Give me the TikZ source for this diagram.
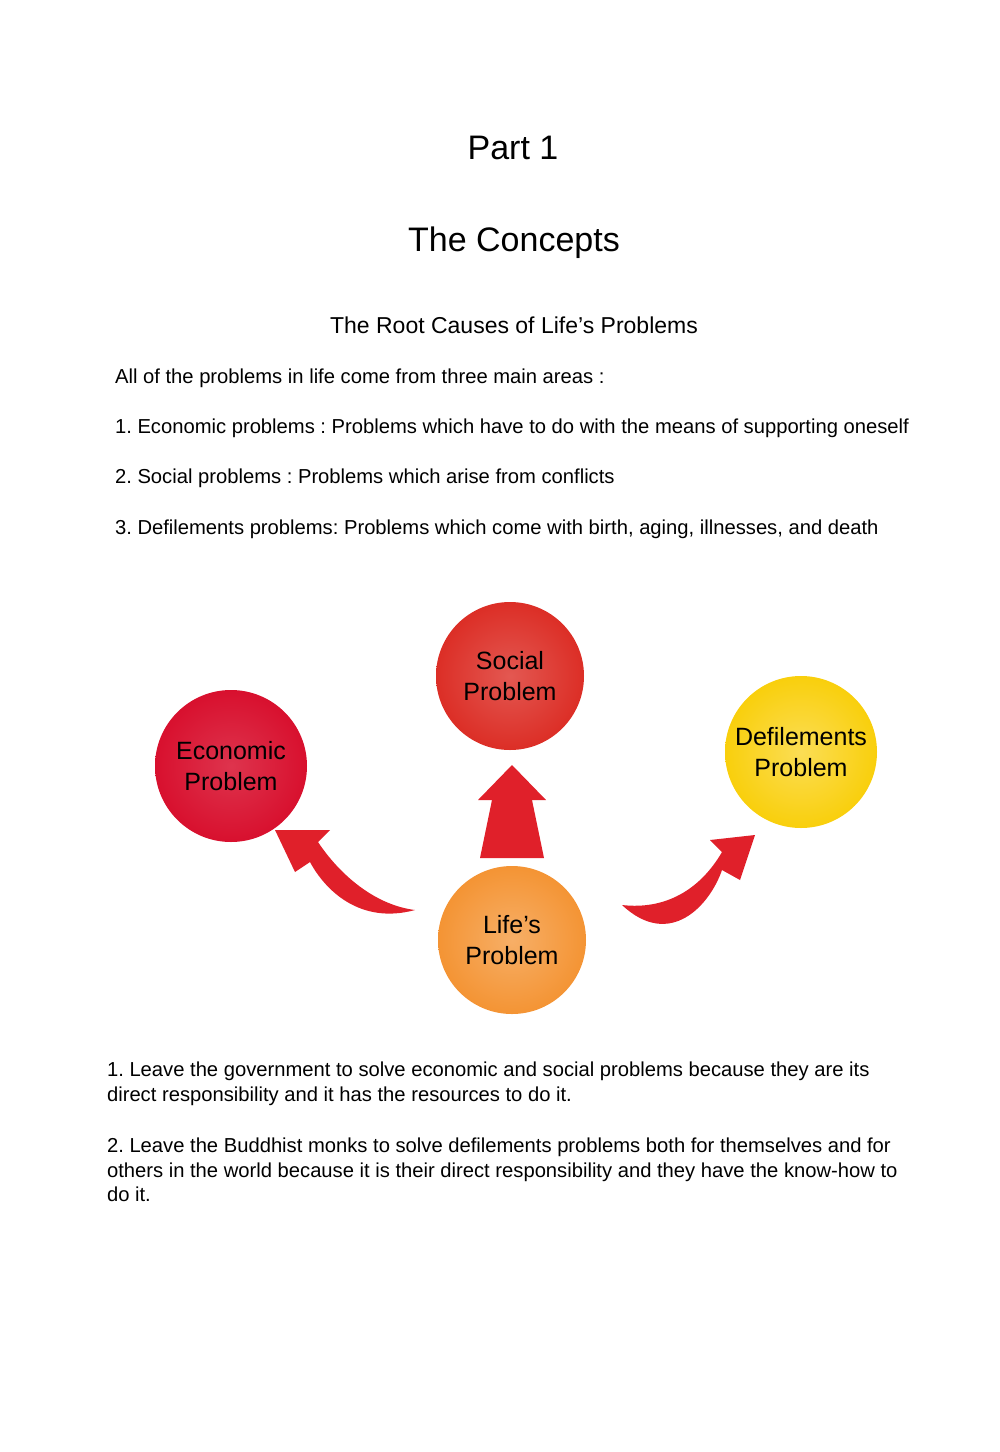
\documentclass[tikz,border=0pt]{standalone}
\usepackage{fontspec}
\setmainfont{Liberation Sans}
\usetikzlibrary{positioning,calc,shadings}

\definecolor{socialred}{HTML}{DC2E26}
\definecolor{econred}{HTML}{D8102E}
\definecolor{defyellow}{HTML}{F9CF0C}
\definecolor{lifeorange}{HTML}{F49434}
\definecolor{arrowred}{HTML}{E0202A}

\tikzset{
  ball/.style={circle, minimum size=74pt, inner sep=0pt, shading=radial,
               align=center, font=\fontsize{12.5}{15.5}\selectfont},
  bodytext/.style={anchor=west, font=\fontsize{10.1}{12}\selectfont},
  paratext/.style={anchor=north west, align=left, font=\fontsize{10.1}{12.2}\selectfont}
}

\begin{document}
\begin{tikzpicture}[x=0.5pt,y=-0.5pt]
  \useasboundingbox (0,0) rectangle (1000,1452);

  % headings
  \node(part) at (513,148) {\fontsize{17}{20}\selectfont Part 1};
  \node(concepts) at (514,243) {\fontsize{17}{20}\selectfont The Concepts};
  \node(root) at (514,325) {\fontsize{11.5}{14}\selectfont The Root Causes of Life's Problems};

  \node(intro)[bodytext] at (108,378) {All of the problems in life come from three main areas :};
  \node(l1)[bodytext] at (108,428) {1.\ Economic problems :\ Problems which have to do with the means of supporting oneself};
  \node(l2)[bodytext] at (108,478) {2.\ Social problems :\ Problems which arise from conflicts};
  \node(l3)[bodytext] at (108,529) {3.\ Defilements problems:\ Problems which come with birth, aging, illnesses, and death};

  % arrows
  \fill[arrowred] (480,858) -- (492,800) -- (478,800) -- (512,765)
    -- (546,800) -- (532,800) -- (544,858) -- cycle;
  \fill[arrowred] (415,910) .. controls (360,925) and (325,890) .. (310,862)
    -- (295,872) -- (275,830) -- (330,830) -- (318,842)
    .. controls (340,875) and (375,905) .. (415,910) -- cycle;
  \fill[arrowred] (622,905) .. controls (670,950) and (710,905) .. (722,870)
    -- (740,880) -- (755,835) -- (710,840) -- (722,852)
    .. controls (700,890) and (665,910) .. (622,905) -- cycle;

  % circles
  \node(social)[ball, inner color=socialred!80!white, outer color=socialred] at (510,676) {Social\\Problem};
  \node(econ)[ball, inner color=econred!85!white, outer color=econred, minimum size=76pt] at (231,766) {Economic\\Problem};
  \node(defil)[ball, inner color=defyellow!70!white, outer color=defyellow, minimum size=76pt] at (801,752) {Defilements\\Problem};
  \node(life)[ball, inner color=lifeorange!75!white, outer color=lifeorange] at (512,940) {Life's\\Problem};

  % paragraphs
  \node(p1)[paratext] at (100,1055) {1.\ Leave the government to solve economic and social problems because they are its\\direct responsibility and it has the resources to do it.};
  \node(p2)[paratext] at (100,1131) {2.\ Leave the Buddhist monks to solve defilements problems both for themselves and for\\others in the world because it is their direct responsibility and they have the know-how to\\do it.};
\end{tikzpicture}
\end{document}
